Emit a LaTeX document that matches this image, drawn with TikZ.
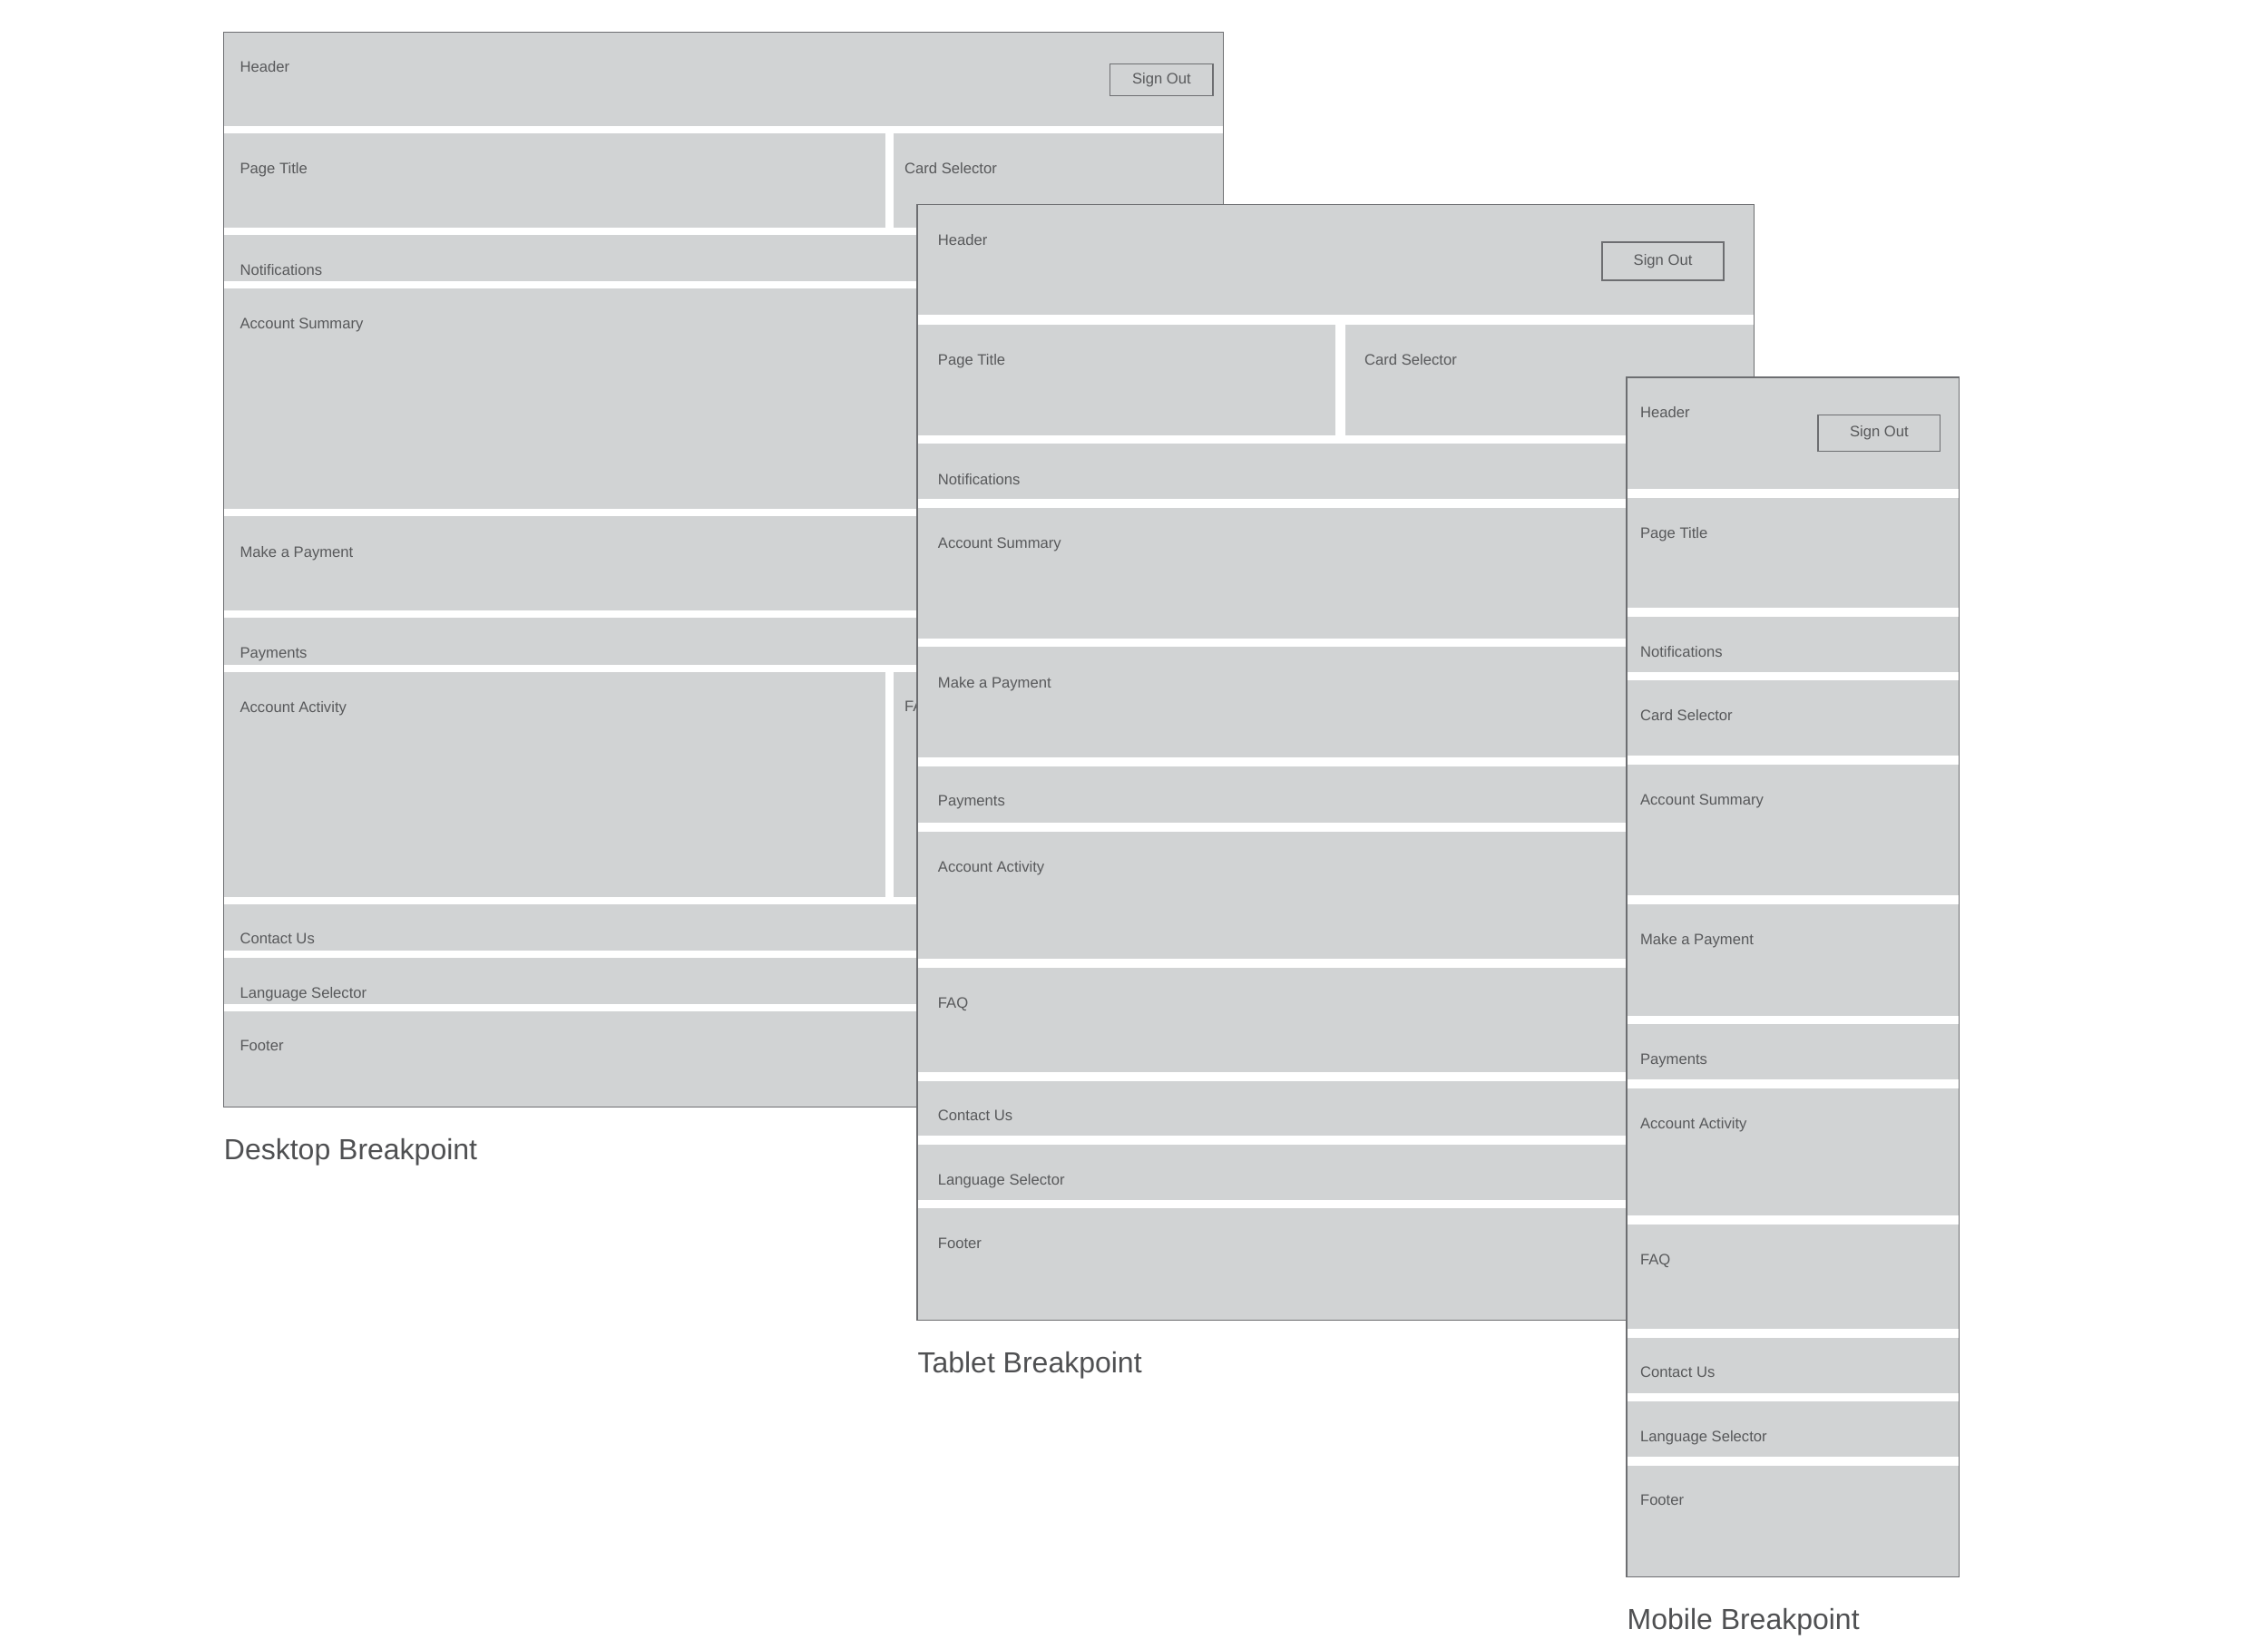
\documentclass[tikz,border=0pt]{standalone}
\usepackage{fontspec}
\setmainfont{Liberation Sans}
\definecolor{blkgray}{HTML}{D1D3D4}
\definecolor{edgegray}{HTML}{6D6E71}
\definecolor{txtgray}{HTML}{58595B}
\tikzset{
  lbl/.style={anchor=north west,inner sep=0pt,font=\fontsize{5.2}{6}\selectfont,text=txtgray},
  ttl/.style={anchor=west,inner sep=0pt,font=\fontsize{10}{12}\selectfont,text=txtgray!90!black},
  btn/.style={draw=edgegray,line width=0.5pt,fill=blkgray,font=\fontsize{5.2}{6}\selectfont,text=txtgray,inner sep=0pt},
}
\newcommand\blkbox[7]{%
  \fill[blkgray] (#2,#3) rectangle (#4,#5);
  \node[lbl] (#1) at ([xshift=#7*0.5pt,yshift=-10pt]#2,#3) {#6};}
\newcommand\frm[4]{%
  \fill[white] (#1,#2) rectangle (#3,#4);}
\newcommand\frmedge[4]{%
  \draw[edgegray,line width=0.4pt] (#1,#2) rectangle (#3,#4);}
\begin{document}
\begin{tikzpicture}[x=0.5pt,y=-0.5pt]
\useasboundingbox (0,0) rectangle (1563,1136);
\fill[white] (0,0) rectangle (1563,1136);
% Desktop
\frm{154}{22}{843}{763}
\blkbox{dh}{154}{22}{843}{87}{Header}{11}
\blkbox{dpt}{154}{92}{610}{157}{Page Title}{11}
\blkbox{dcs}{616}{92}{843}{157}{Card Selector}{7}
\blkbox{dn}{154}{162}{843}{194}{Notifications}{11}
\blkbox{das}{154}{199}{843}{351}{Account Summary}{11}
\blkbox{dmp}{154}{356}{843}{421}{Make a Payment}{11}
\blkbox{dp}{154}{426}{843}{458}{Payments}{11}
\blkbox{daa}{154}{463}{610}{618}{Account Activity}{11}
\blkbox{dfaq}{616}{463}{843}{618}{FAQ}{7}
\blkbox{dcu}{154}{623}{843}{655}{Contact Us}{11}
\blkbox{dls}{154}{660}{843}{692}{Language Selector}{11}
\blkbox{df}{154}{697}{843}{763}{Footer}{11}
\frmedge{154}{22}{843}{763}
\node[btn,minimum width=35.5pt,minimum height=11pt] (dso) at (800.5,55) {Sign Out};
\node[ttl] (dt) at (154,794) {Desktop Breakpoint};
% Tablet
\frm{632}{141}{1209}{910}
\blkbox{th}{632}{141}{1209}{217}{Header}{14}
\blkbox{tpt}{632}{224}{920}{300}{Page Title}{14}
\blkbox{tcs}{927}{224}{1209}{300}{Card Selector}{13}
\blkbox{tn}{632}{306}{1209}{344}{Notifications}{14}
\blkbox{tas}{632}{350}{1209}{440}{Account Summary}{14}
\blkbox{tmp}{632}{446}{1209}{522}{Make a Payment}{14}
\blkbox{tp}{632}{528}{1209}{567}{Payments}{14}
\blkbox{taa}{632}{573}{1209}{661}{Account Activity}{14}
\blkbox{tfaq}{632}{667}{1209}{739}{FAQ}{14}
\blkbox{tcu}{632}{745}{1209}{783}{Contact Us}{14}
\blkbox{tls}{632}{789}{1209}{827}{Language Selector}{14}
\blkbox{tf}{632}{833}{1209}{910}{Footer}{14}
\frmedge{632}{141}{1209}{910}
\node[btn,minimum width=42pt,minimum height=13pt] (tso) at (1146,180) {Sign Out};
\node[ttl] (tt) at (632,941) {Tablet Breakpoint};
% Mobile
\frm{1121}{260}{1350}{1087}
\blkbox{mh}{1121}{260}{1350}{337}{Header}{9}
\blkbox{mpt}{1121}{343}{1350}{419}{Page Title}{9}
\blkbox{mn}{1121}{425}{1350}{463}{Notifications}{9}
\blkbox{mcs}{1121}{469}{1350}{521}{Card Selector}{9}
\blkbox{mas}{1121}{527}{1350}{617}{Account Summary}{9}
\blkbox{mmp}{1121}{623}{1350}{700}{Make a Payment}{9}
\blkbox{mp}{1121}{706}{1350}{744}{Payments}{9}
\blkbox{maa}{1121}{750}{1350}{838}{Account Activity}{9}
\blkbox{mfaq}{1121}{844}{1350}{916}{FAQ}{9}
\blkbox{mcu}{1121}{922}{1350}{960}{Contact Us}{9}
\blkbox{mls}{1121}{966}{1350}{1004}{Language Selector}{9}
\blkbox{mf}{1121}{1010}{1350}{1087}{Footer}{9}
\frmedge{1121}{260}{1350}{1087}
\node[btn,minimum width=42pt,minimum height=12.5pt] (mso) at (1295,298.5) {Sign Out};
\node[ttl] (mt) at (1121,1118) {Mobile Breakpoint};
\end{tikzpicture}
\end{document}
